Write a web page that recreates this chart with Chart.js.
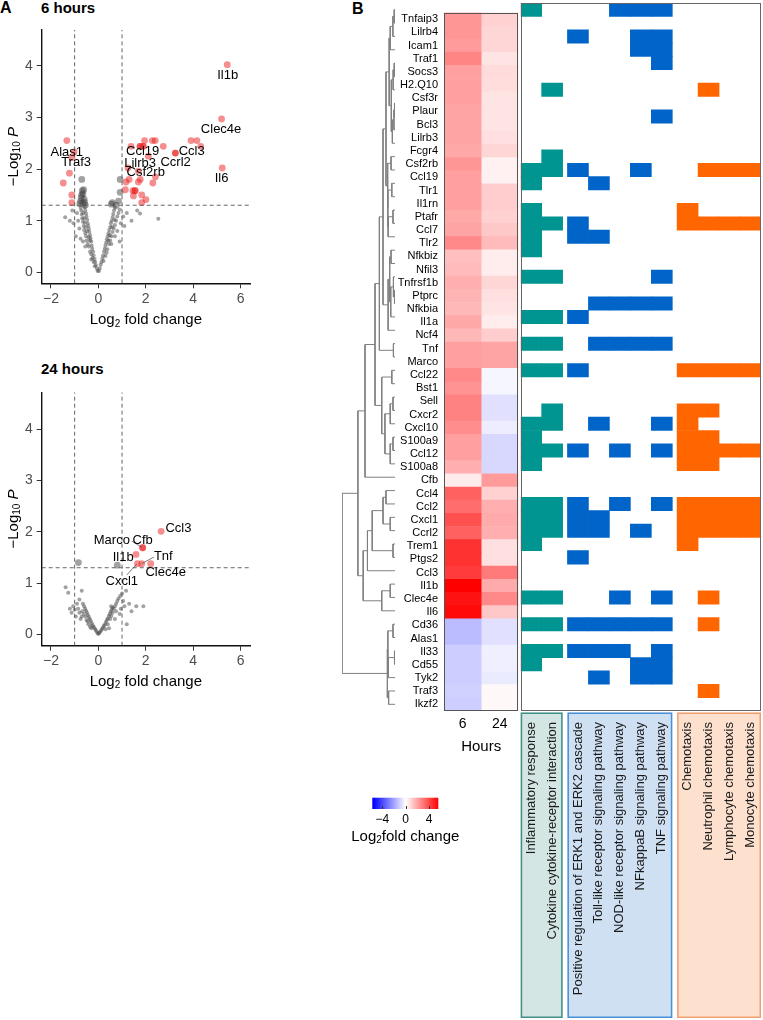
<!DOCTYPE html>
<html>
<head>
<meta charset="utf-8">
<script src="https://cdn.jsdelivr.net/npm/chart.js@4.4.1/dist/chart.umd.min.js"></script>
<style>
  body { margin: 0; background: #fff; }
  #page { position: relative; width: 763px; height: 1020px; overflow: hidden; font-family: "Liberation Sans", Arial, sans-serif; }
  #page canvas { position: absolute; }
  .tag { position: absolute; font-weight: bold; color: #000; line-height: 1; white-space: nowrap; }
</style>
</head>
<body>
<div id="page">
  <div class="tag" style="left:0;top:0;font-size:16px">A</div>
  <div class="tag" style="left:41px;top:0;font-size:15px">6 hours</div>
  <div class="tag" style="left:41px;top:361px;font-size:15px">24 hours</div>
  <div class="tag" style="left:352px;top:1px;font-size:16px">B</div>
  <canvas id="volcano6" width="260" height="335" style="left:0;top:0"></canvas>
  <canvas id="volcano24" width="260" height="340" style="left:0;top:360px"></canvas>
  <canvas id="dendro" width="62" height="720" style="left:336px;top:0"></canvas>
  <canvas id="heat" width="140" height="760" style="left:380px;top:0"></canvas>
  <canvas id="paths" width="244" height="1020" style="left:519px;top:0"></canvas>
  <canvas id="legend" width="140" height="60" style="left:340px;top:790px"></canvas>
</div>
<script>
// ---- data ----
var genes = ['Tnfaip3', 'Lilrb4', 'Icam1', 'Traf1', 'Socs3', 'H2.Q10', 'Csf3r', 'Plaur', 'Bcl3', 'Lilrb3',
    'Fcgr4', 'Csf2rb', 'Ccl19', 'Tlr1', 'Il1rn', 'Ptafr', 'Ccl7', 'Tlr2', 'Nfkbiz', 'Nfil3',
    'Tnfrsf1b', 'Ptprc', 'Nfkbia', 'Il1a', 'Ncf4', 'Tnf', 'Marco', 'Ccl22', 'Bst1', 'Sell',
    'Cxcr2', 'Cxcl10', 'S100a9', 'Ccl12', 'S100a8', 'Cfb', 'Ccl4', 'Ccl2', 'Cxcl1', 'Ccrl2',
    'Trem1', 'Ptgs2', 'Ccl3', 'Il1b', 'Clec4e', 'Il6', 'Cd36', 'Alas1', 'Il33', 'Cd55',
    'Tyk2', 'Traf3', 'Ikzf2'];
var lfc6h = [2.3, 2.3, 2.2, 2.7, 2.1, 2.1, 2.1, 2.0, 2.0, 2.0,
    1.9, 2.3, 2.1, 2.1, 2.1, 1.9, 2.0, 2.6, 1.4, 1.5,
    1.75, 1.65, 1.55, 1.9, 1.55, 2.1, 2.1, 2.6, 2.4, 2.75,
    2.75, 2.5, 2.1, 2.1, 1.75, 0.45, 3.5, 3.2, 3.85, 3.5,
    4.5, 4.5, 4.3, 5.6, 5.2, 5.4, -1.5, -1.5, -1.1, -1.1,
    -1.1, -1.0, -1.1];
var lfc24h = [1.0, 0.9, 0.9, 0.6, 0.8, 0.75, 0.6, 0.6, 0.6, 0.7,
    0.9, 0.3, 0.3, 1.1, 1.1, 1.0, 1.2, 1.5, 0.4, 0.4,
    0.9, 0.7, 0.6, 0.4, 1.1, 2.0, 2.0, -0.2, -0.2, -0.65,
    -0.65, -0.4, -0.85, -0.85, -0.85, 2.2, 1.0, 1.75, 1.85, 1.75,
    0.7, 0.7, 2.9, 1.85, 2.6, 1.2, -0.65, -0.65, -0.35, -0.35,
    -0.45, 0.15, 0.15];
var hourLabels = ['6', '24'];

var pathways = ['Inflammatory response', 'Cytokine cytokine-receptor interaction',
    'Positive regulation of ERK1 and ERK2 cascade', 'Toll-like receptor signaling pathway',
    'NOD-like receptor signaling pathway', 'NFkappaB signaling pathway', 'TNF signaling pathway',
    'Chemotaxis', 'Neutrophil chemotaxis', 'Lymphocyte chemotaxis', 'Monocyte chemotaxis'];
var pathwayGroup = [0, 0, 1, 1, 1, 1, 1, 2, 2, 2, 2];
// pathway columns each gene belongs to (same order as genes)
var members = [[0, 4, 5, 6], [], [2, 5, 6], [5, 6], [6], [], [1, 8], [], [6], [],
    [], [1], [0, 1, 2, 5, 8, 9, 10], [0, 3], [], [0, 7], [0, 1, 2, 7, 8, 9, 10], [0, 2, 3], [0], [],
    [0, 1, 6], [], [3, 4, 5, 6], [0, 1, 2], [], [0, 1, 3, 4, 5, 6], [], [0, 1, 2, 7, 8, 9, 10], [], [],
    [1, 7, 8], [0, 1, 3, 6, 7], [0, 7, 8], [0, 1, 2, 4, 6, 7, 8, 9, 10], [0, 7, 8], [], [], [0, 1, 2, 4, 6, 7, 8, 9, 10], [0, 1, 2, 3, 7, 8, 9, 10], [0, 1, 2, 3, 5, 7, 8, 9, 10],
    [0, 7], [2], [], [], [0, 1, 4, 6, 8], [], [0, 1, 2, 3, 4, 5, 6, 8], [], [0, 1, 2, 3, 4, 6], [0, 5, 6],
    [3, 5, 6], [8], []];

// row clustering: [left, right, merge height]; numbers are row indexes
var treeA1 = [[[[0, 1, 0.15], 2, 0.4], 3, 0.9], [[[4, 5, 0.15], 6, 0.35], [[[7, 8, 0.1], 9, 0.2], 10, 0.5], 0.7], 1.1];
var treeA2 = [[11, 12, 0.75], [[13, 14, 0.6], [[15, 16, 0.38], 17, 1.3], 1.35], 1.4];
var treeA3 = [[[18, 19, 0.75], [[20, [21, 22, 0.1], 0.3], 23, 0.8], 1.0], 24, 1.3];
var treeA = [[[treeA1, treeA2, 1.7], treeA3, 2.26], [25, 26, 0.3], 2.95];
var treeB = [[27, 28, 0.6], [[[29, 30, 0.38], 31, 0.9], [[32, 33, 0.38], 34, 0.9], 1.9], 2.5];
var treeC = [[[[[36, 37, 1.7], [38, 39, 0.9], 2.26], [40, 41, 0.38], 4.3], 42, 5.2], [[43, 44, 0.9], 45, 2.5], 6.0];
var treeD = [[[46, 47, 0.38], [[48, 49, 0.1], 50, 1.26], 1.35], [51, 52, 1.2], 1.45];
var dendrogram = [[[[treeA, treeB, 3.77], 35, 5.66], treeC, 7.0], treeD, 10];

var volcanoTicksX = [-2, 0, 2, 4, 6];
var volcanoTicksY = [0, 1, 2, 3, 4];
var colorbarTicks = [-4, 0, 4];

// 6 hours volcano
var red6h = [[5.44, 4.02], [5.2, 2.97], [5.23, 2.02], [3.91, 2.55], [4.16, 2.55], [4.32, 2.44], [3.25, 2.31], [3.25, 2.31],
    [2.74, 2.44], [2.4, 2.55], [2.28, 2.55], [1.95, 2.55], [1.88, 2.44], [1.76, 2.44], [1.76, 2.44], [1.9, 2.44],
    [1.38, 2.44], [2.11, 2.25], [1.25, 2.02], [1.17, 1.75], [1.3, 1.8], [1.69, 1.75], [1.77, 1.8], [2.3, 1.73],
    [2.41, 1.85], [1.14, 1.6], [1.46, 1.58], [1.55, 1.58], [1.55, 1.58], [1.83, 1.5], [1.48, 1.48], [2.01, 1.41],
    [1.83, 1.35], [1.69, 1.96],
    [-1.33, 2.55], [-1.02, 2.33], [-1.12, 2.22], [-1.22, 1.92], [-1.48, 1.73], [-1.12, 1.5], [-1.12, 1.35]];
var greyBig6h = [[-0.7, 1.8], [-0.68, 1.58], [-0.62, 1.6], [-0.65, 1.52], [-0.72, 1.45], [-0.6, 1.42], [-0.75, 1.38],
    [-0.66, 1.34], [-0.7, 1.5], [-0.58, 1.36], [0.92, 1.8], [0.92, 1.55], [0.59, 1.35], [0.75, 1.3], [0.85, 1.38],
    [0.55, 1.32], [-0.78, 1.33], [-0.55, 1.3]];
var greySmall6h = [[-0.03, 0.03], [-0.06, 0.07], [-0.1, 0.14], [-0.13, 0.2], [-0.16, 0.26], [-0.2, 0.33], [-0.22, 0.4],
    [-0.26, 0.46], [-0.28, 0.52], [-0.3, 0.6], [-0.33, 0.66], [-0.35, 0.72], [-0.38, 0.78], [-0.4, 0.84], [-0.42, 0.9],
    [-0.45, 0.95], [-0.47, 1.02], [-0.5, 1.08], [-0.52, 1.14], [-0.55, 1.2], [-0.58, 1.26], [-0.2, 0.2], [-0.25, 0.28],
    [-0.3, 0.35], [-0.35, 0.4], [-0.4, 0.5], [-0.45, 0.55], [-0.5, 0.62], [-0.52, 0.7], [-0.55, 0.76], [-0.6, 0.82],
    [-0.62, 0.9], [-0.65, 0.98], [-0.68, 1.05], [-0.7, 1.12], [-0.72, 1.2], [-0.75, 1.25], [-0.36, 0.62], [-0.41, 0.68],
    [-0.48, 0.8], [-0.53, 0.88], [-0.57, 0.96], [-0.6, 1.05], [-0.64, 1.15], [-0.3, 0.25], [-0.15, 0.12], [-0.55, 0.5],
    [-0.65, 0.6], [-0.8, 0.85], [-0.85, 1.0], [-0.9, 1.15], [-1.05, 0.95], [-1.2, 1.0], [-1.4, 1.07], [-0.95, 0.7],
    [-0.75, 0.65], [-1.1, 1.2],
    [0.03, 0.03], [0.06, 0.08], [0.1, 0.15], [0.13, 0.2], [0.17, 0.27], [0.2, 0.33], [0.24, 0.4], [0.27, 0.46],
    [0.3, 0.52], [0.33, 0.58], [0.36, 0.64], [0.4, 0.7], [0.43, 0.76], [0.46, 0.82], [0.5, 0.88], [0.53, 0.95],
    [0.56, 1.0], [0.6, 1.07], [0.63, 1.13], [0.66, 1.2], [0.7, 1.25], [0.22, 0.22], [0.3, 0.32], [0.38, 0.45],
    [0.45, 0.55], [0.5, 0.62], [0.55, 0.7], [0.6, 0.78], [0.65, 0.85], [0.7, 0.92], [0.75, 1.0], [0.8, 1.08],
    [0.85, 1.15], [0.9, 1.22], [0.42, 0.62], [0.48, 0.72], [0.58, 0.88], [0.68, 1.02], [0.35, 0.38], [0.55, 0.55],
    [0.7, 0.7], [0.8, 0.8], [0.95, 0.95], [1.05, 1.08], [1.2, 1.15], [1.4, 1.0], [1.64, 1.2], [1.76, 1.14],
    [2.53, 1.04], [1.1, 0.9], [0.9, 0.6]];
var notes6h = [['Il1b', 5.46, 3.82], ['Clec4e', 5.18, 2.77], ['Il6', 5.2, 1.82], ['Ccl3', 3.94, 2.35],
    ['Ccrl2', 3.26, 2.12], ['Ccl19', 1.87, 2.35], ['Lilrb3', 1.76, 2.11], ['Csf2rb', 2.0, 1.93],
    ['Alas1', -1.33, 2.33], ['Traf3', -0.94, 2.12]];

// 24 hours volcano
var red24h = [[2.65, 2.01], [1.87, 1.69], [1.87, 1.69], [1.59, 1.56], [1.65, 1.38], [1.83, 1.38], [2.21, 1.38]];
var greyBig24h = [[-0.84, 1.4], [0.8, 1.35]];
var greySmall24h = [[0, 0.01], [-0.04, 0.03], [0.04, 0.03], [-0.08, 0.06], [0.08, 0.05], [-0.12, 0.09], [0.12, 0.08],
    [-0.16, 0.12], [0.16, 0.11], [-0.2, 0.15], [0.2, 0.14], [-0.24, 0.18], [0.24, 0.17], [-0.28, 0.22], [0.28, 0.2],
    [-0.32, 0.26], [0.32, 0.24], [-0.36, 0.3], [0.36, 0.28], [-0.4, 0.34], [0.4, 0.31], [-0.44, 0.38], [0.44, 0.36],
    [-0.48, 0.42], [0.48, 0.4], [-0.52, 0.46], [0.52, 0.44], [-0.56, 0.5], [0.56, 0.48], [-0.6, 0.55], [0.6, 0.52],
    [-0.3, 0.12], [-0.42, 0.2], [-0.5, 0.28], [-0.55, 0.35], [-0.62, 0.4], [-0.68, 0.45], [-0.7, 0.35], [-0.75, 0.3],
    [-0.8, 0.42], [-0.85, 0.5], [-0.95, 0.35], [-1.06, 0.55], [-1.13, 0.42], [-1.0, 0.48], [-0.7, 0.85], [-0.8, 0.68],
    [-1.27, 0.81], [-1.38, 0.92], [-0.65, 0.6], [-0.45, 0.25], [-0.35, 0.15], [-0.9, 0.6], [-1.2, 0.5],
    [0.3, 0.1], [0.4, 0.2], [0.5, 0.3], [0.55, 0.36], [0.6, 0.42], [0.65, 0.5], [0.7, 0.55], [0.75, 0.6],
    [0.8, 0.65], [0.85, 0.7], [0.92, 0.75], [0.54, 0.55], [1.17, 0.85], [1.0, 0.8], [1.05, 0.65], [1.1, 0.55],
    [0.95, 0.5], [1.6, 0.55], [1.9, 0.55], [1.4, 0.45], [1.2, 0.2], [0.9, 0.4], [1.3, 0.6], [0.75, 0.45],
    [0.45, 0.12], [0.7, 0.3]];
var notes24h = [['Ccl3', 3.38, 2.07], ['Marco', 0.57, 1.84], ['Cfb', 1.87, 1.84], ['Il1b', 1.05, 1.51],
    ['Tnf', 2.74, 1.53], ['Clec4e', 2.84, 1.21], ['Cxcl1', 0.99, 1.03]];
var leaders24h = [[[1.41, 1.82], [1.83, 1.7]], [[2.35, 1.51], [1.83, 1.38]], [[1.2, 1.16], [1.62, 1.37]]];

// ---- style ----
Chart.defaults.font.family = '"Liberation Sans", Arial, Helvetica, sans-serif';
Chart.defaults.animation = false;
Chart.defaults.responsive = false;
Chart.defaults.plugins.legend.display = false;
Chart.defaults.plugins.tooltip.enabled = false;

var FONT = '"Liberation Sans", Arial, sans-serif';
var lfcLimit = 5.6;
var groupColors = ['#009591', '#0064c8', '#ff6600'];
var groupFill = ['#d3e6e3', '#cfe0f3', '#fde1ce'];
var groupEdge = ['#3f8f86', '#4a90d9', '#f0a070'];

function lfcColor(v) {
    var t = Math.max(-1, Math.min(1, v / lfcLimit));
    var c;
    if (t >= 0) {
        c = Math.round(255 * (1 - t));
        return 'rgb(255,' + c + ',' + c + ')';
    }
    c = Math.round(255 * (1 + t));
    return 'rgb(' + c + ',' + c + ',255)';
}

function minusFmt(v) {
    return v < 0 ? '\u2212' + Math.abs(v) : '' + v;
}

function drawRich(ctx, parts, x, y) {
    var w = 0;
    parts.forEach(function (p) { ctx.font = p.font; w += ctx.measureText(p.t).width; });
    var cx = x - w / 2;
    ctx.textAlign = 'left';
    ctx.textBaseline = 'middle';
    parts.forEach(function (p) {
        ctx.font = p.font;
        ctx.fillText(p.t, cx, y + (p.dy || 0));
        cx += ctx.measureText(p.t).width;
    });
}

function pts(list) {
    return list.map(function (p) { return {x: p[0], y: p[1]}; });
}

function dashed(a, b) {
    return {data: [{x: a[0], y: a[1]}, {x: b[0], y: b[1]}], showLine: true, pointRadius: 0,
        borderColor: '#555', borderWidth: 0.9, borderDash: [4, 3]};
}

function volcano(id, red, greyBig, greySmall, yMin, yMax, notes, leaders, axisH, padTop, titleY) {
    var xMin = -2.39, xMax = 6.4;
    var sets = [
        dashed([-1, yMin], [-1, yMax]), dashed([1, yMin], [1, yMax]), dashed([xMin, 1.3], [xMax, 1.3]),
        {data: pts(red), pointRadius: 3.4, backgroundColor: 'rgba(236,30,30,0.5)', borderWidth: 0},
        {data: pts(greyBig), pointRadius: 3.4, backgroundColor: 'rgba(70,70,70,0.5)', borderWidth: 0},
        {data: pts(greySmall), pointRadius: 2, backgroundColor: 'rgba(70,70,70,0.5)', borderWidth: 0}
    ];
    leaders.forEach(function (l) {
        sets.unshift({data: pts(l), showLine: true, pointRadius: 0, borderColor: '#444', borderWidth: 0.7});
    });
    new Chart(document.getElementById(id), {
        type: 'scatter',
        data: {datasets: sets},
        options: {
            layout: {padding: {left: 0, right: 10, top: padTop, bottom: 0}},
            scales: {
                x: {
                    type: 'linear', min: xMin, max: xMax,
                    afterBuildTicks: function (s) { s.ticks = volcanoTicksX.map(function (v) { return {value: v}; }); },
                    afterFit: function (s) { s.height = axisH; },
                    grid: {drawOnChartArea: false, color: '#333', tickLength: 5},
                    border: {color: '#111', width: 1.4},
                    ticks: {font: {size: 14}, color: '#4d4d4d', padding: 2, callback: minusFmt}
                },
                y: {
                    type: 'linear', min: yMin, max: yMax,
                    afterBuildTicks: function (s) { s.ticks = volcanoTicksY.map(function (v) { return {value: v}; }); },
                    afterFit: function (s) { s.width = 41.7; },
                    grid: {drawOnChartArea: false, color: '#333', tickLength: 5},
                    border: {color: '#111', width: 1.4},
                    ticks: {font: {size: 14}, color: '#4d4d4d', padding: 4, callback: minusFmt}
                }
            }
        },
        plugins: [{
            id: 'volcanoText',
            afterDraw: function (chart) {
                var ctx = chart.ctx, a = chart.chartArea, sx = chart.scales.x, sy = chart.scales.y;
                ctx.save();
                ctx.fillStyle = '#000';
                ctx.font = '13px ' + FONT;
                ctx.textAlign = 'center';
                ctx.textBaseline = 'middle';
                notes.forEach(function (n) {
                    ctx.fillText(n[0], sx.getPixelForValue(n[1]), sy.getPixelForValue(n[2]));
                });
                drawRich(ctx, [{t: 'Log', font: '15px ' + FONT}, {t: '2', font: '10px ' + FONT, dy: 4},
                    {t: ' fold change', font: '15px ' + FONT}], (a.left + a.right) / 2, titleY);
                ctx.translate(13.5, (a.top + a.bottom) / 2);
                ctx.rotate(-Math.PI / 2);
                drawRich(ctx, [{t: '\u2212Log', font: '15px ' + FONT}, {t: '10', font: '10px ' + FONT, dy: 4},
                    {t: ' P', font: 'italic 15px ' + FONT}], 0, 0);
                ctx.restore();
            }
        }]
    });
}

volcano('volcano6', red6h, greyBig6h, greySmall6h, -0.21, 4.69, notes6h, [], 51.7, 30, 320);
volcano('volcano24', red24h, greyBig24h, greySmall24h, -0.22, 4.72, notes24h, leaders24h, 54.3, 32.3, 321.7);

// ---- dendrogram ----
function dendroSegments(node, out) {
    if (typeof node === 'number') return {y: node, h: 0};
    var a = dendroSegments(node[0], out), b = dendroSegments(node[1], out), h = node[2];
    out.push({x: a.h, y: a.y}, {x: h, y: a.y}, {x: h, y: b.y}, {x: b.h, y: b.y}, {x: null, y: null});
    return {y: (a.y + b.y) / 2, h: h};
}
var dendroPts = [];
dendroSegments(dendrogram, dendroPts);
new Chart(document.getElementById('dendro'), {
    type: 'scatter',
    data: {datasets: [{data: dendroPts, showLine: true, spanGaps: false, pointRadius: 0,
        borderColor: '#808080', borderWidth: 1}]},
    options: {
        layout: {padding: {left: 6, right: 3, top: 3, bottom: 9}},
        scales: {
            x: {type: 'linear', min: 0, max: 10, reverse: true, display: false},
            y: {type: 'linear', min: -0.5, max: genes.length - 0.5, reverse: true, display: false}
        }
    }
});

// ---- heatmap ----
function frame(color) {
    return {
        id: 'frame',
        afterDraw: function (chart) {
            var a = chart.chartArea, ctx = chart.ctx;
            ctx.save();
            ctx.strokeStyle = color;
            ctx.lineWidth = 1;
            ctx.strokeRect(Math.round(a.left) + 0.5, Math.round(a.top) + 0.5,
                Math.round(a.right - a.left) - 1, Math.round(a.bottom - a.top) - 1);
            ctx.restore();
        }
    };
}

new Chart(document.getElementById('heat'), {
    type: 'bar',
    data: {
        labels: genes,
        datasets: [lfc6h, lfc24h].map(function (vals) {
            return {data: vals.map(function () { return 1; }), backgroundColor: vals.map(lfcColor),
                borderWidth: 0, barPercentage: 1, categoryPercentage: 1};
        })
    },
    options: {
        indexAxis: 'y',
        layout: {padding: {left: 0, right: 1.7, top: 3, bottom: 0}},
        scales: {
            x: {
                type: 'linear', stacked: true, min: 0, max: 2,
                afterBuildTicks: function (s) { s.ticks = [{value: 0.5}, {value: 1.5}]; },
                afterFit: function (s) { s.height = 49; },
                grid: {display: false, drawTicks: false}, border: {display: false},
                ticks: {font: {size: 14}, color: '#000', padding: 5,
                    callback: function (v, i) { return hourLabels[i]; }},
                title: {display: true, text: 'Hours', font: {size: 15}, color: '#000', padding: {top: 0, bottom: 4}}
            },
            y: {
                stacked: true,
                afterFit: function (s) { s.width = 64; },
                grid: {display: false, drawTicks: false}, border: {display: false},
                ticks: {autoSkip: false, font: {size: 11}, color: '#000', padding: 6}
            }
        }
    },
    plugins: [frame('#555')]
});

// ---- pathway membership ----
var groupGap = 0.23;
var colStart = [];
var pathSets = [];
var xPos = 0;
pathways.forEach(function (name, c) {
    if (c > 0 && pathwayGroup[c] !== pathwayGroup[c - 1]) {
        pathSets.push({data: genes.map(function () { return groupGap; }), backgroundColor: 'rgba(0,0,0,0)',
            borderWidth: 0, barPercentage: 1, categoryPercentage: 1});
        xPos += groupGap;
    }
    colStart.push(xPos);
    pathSets.push({
        data: genes.map(function () { return 1; }),
        backgroundColor: genes.map(function (g, i) {
            return members[i].indexOf(c) >= 0 ? groupColors[pathwayGroup[c]] : 'rgba(0,0,0,0)';
        }),
        borderWidth: 0, barPercentage: 1, categoryPercentage: 1
    });
    xPos += 1;
});

new Chart(document.getElementById('paths'), {
    type: 'bar',
    data: {labels: genes, datasets: pathSets},
    options: {
        indexAxis: 'y',
        layout: {padding: {left: 1.7, right: 2, top: 3, bottom: 309}},
        scales: {
            x: {type: 'linear', stacked: true, min: 0, max: xPos, display: false},
            y: {stacked: true, display: false}
        }
    },
    plugins: [frame('#666'), {
        id: 'pathLabels',
        afterDraw: function (chart) {
            var ctx = chart.ctx, sx = chart.scales.x, a = chart.chartArea;
            var top = a.bottom + 1.5, bottom = chart.height - 2;
            ctx.save();
            groupColors.forEach(function (col, g) {
                var cols = [];
                pathwayGroup.forEach(function (pg, c) { if (pg === g) cols.push(c); });
                var x0 = sx.getPixelForValue(colStart[cols[0]]);
                var x1 = sx.getPixelForValue(colStart[cols[cols.length - 1]] + 1);
                ctx.fillStyle = groupFill[g];
                ctx.fillRect(x0, top, x1 - x0, bottom - top);
                ctx.strokeStyle = groupEdge[g];
                ctx.lineWidth = 1.5;
                ctx.strokeRect(x0 + 0.75, top + 0.75, x1 - x0 - 1.5, bottom - top - 1.5);
            });
            ctx.fillStyle = '#1a1a1a';
            ctx.font = '13px ' + FONT;
            ctx.textAlign = 'right';
            ctx.textBaseline = 'middle';
            pathways.forEach(function (name, c) {
                ctx.save();
                ctx.translate(sx.getPixelForValue(colStart[c] + 0.5), top + 9.5);
                ctx.rotate(-Math.PI / 2);
                ctx.fillText(name, 0, 0);
                ctx.restore();
            });
            ctx.restore();
        }
    }]
});

// ---- colour key ----
new Chart(document.getElementById('legend'), {
    type: 'scatter',
    data: {datasets: []},
    options: {
        layout: {padding: {left: 32.3, right: 41.7, top: 7.7, bottom: 0}},
        scales: {
            x: {
                type: 'linear', min: -5.73, max: 5.6,
                afterBuildTicks: function (s) { s.ticks = colorbarTicks.map(function (v) { return {value: v}; }); },
                afterFit: function (s) { s.height = 41; },
                grid: {display: false, drawTicks: false}, border: {display: false},
                ticks: {font: {size: 12}, color: '#000', padding: 3, callback: minusFmt}
            },
            y: {type: 'linear', min: 0, max: 1, display: false}
        }
    },
    plugins: [{
        id: 'ramp',
        beforeDatasetsDraw: function (chart) {
            var ctx = chart.ctx, a = chart.chartArea, sx = chart.scales.x;
            var g = ctx.createLinearGradient(sx.getPixelForValue(-lfcLimit), 0, sx.getPixelForValue(lfcLimit), 0);
            g.addColorStop(0, lfcColor(-lfcLimit));
            g.addColorStop(0.5, lfcColor(0));
            g.addColorStop(1, lfcColor(lfcLimit));
            ctx.save();
            ctx.fillStyle = g;
            ctx.fillRect(a.left, a.top, a.right - a.left, a.bottom - a.top);
            ctx.strokeStyle = '#333';
            ctx.lineWidth = 1;
            colorbarTicks.forEach(function (v) {
                var x = Math.round(sx.getPixelForValue(v)) + 0.5;
                ctx.beginPath();
                ctx.moveTo(x, a.bottom);
                ctx.lineTo(x, a.bottom - 3);
                ctx.stroke();
            });
            ctx.fillStyle = '#000';
            drawRich(ctx, [{t: 'Log', font: '15px ' + FONT}, {t: '2', font: '10px ' + FONT, dy: 4},
                {t: 'fold change', font: '15px ' + FONT}], (a.left + a.right) / 2, a.bottom + 27.7);
            ctx.restore();
        }
    }]
});
</script>
</body>
</html>
